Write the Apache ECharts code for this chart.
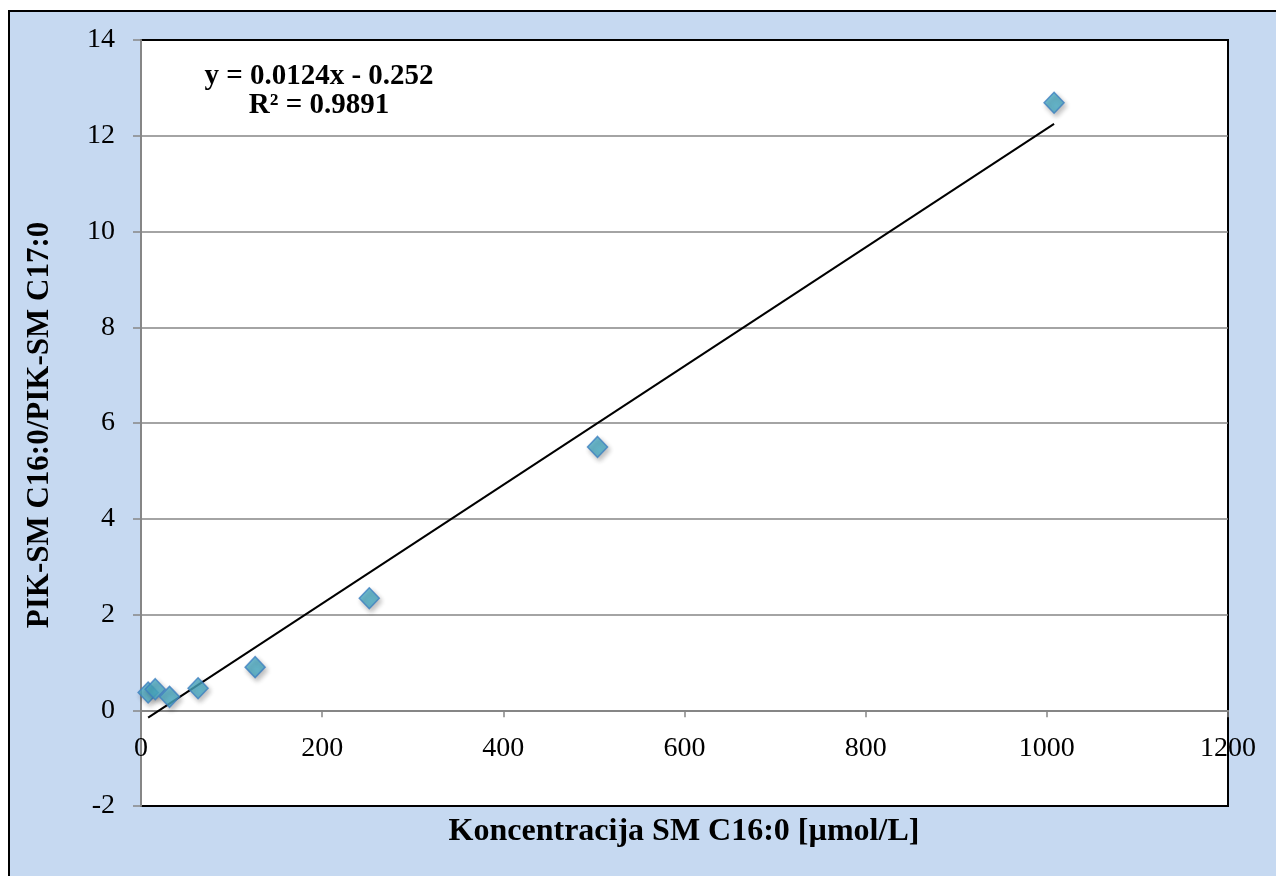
<!DOCTYPE html>
<html>
<head>
<meta charset="utf-8">
<script src="https://cdn.jsdelivr.net/npm/echarts@6/dist/echarts.min.js"></script>
<style>
  html, body { margin: 0; padding: 0; background: #ffffff; }
  #chart { width: 1276px; height: 876px; }
</style>
</head>
<body>
<div id="chart"></div>
<script>
// Calibration points: SM C16:0 concentration vs. peak-area ratio
const concentrations = [7.875, 15.75, 31.5, 63, 126, 252, 504, 1008];
const peakRatios = [0.37, 0.44, 0.28, 0.46, 0.90, 2.34, 5.50, 12.69];

// Linear fit as reported on the chart
const fitSlope = 0.0124;
const fitIntercept = -0.252;
const fitR2 = 0.9891;

// Axis ranges [min, max, step]
const xRange = [0, 1200, 200];
const yRange = [-2, 14, 2];

const xTitle = 'Koncentracija SM C16:0 [\u00b5mol/L]';
const yTitle = 'PIK-SM C16:0/PIK-SM C17:0';

const pointData = concentrations.map((x, i) => [x, peakRatios[i]]);
const fitEnds = [concentrations[0], concentrations[concentrations.length - 1]];
const fitData = fitEnds.map(x => [x, fitSlope * x + fitIntercept]);

const serif = '"Liberation Serif", "Times New Roman", serif';
const gray = '#868686';

// Plot box
const gridLeft = 141, gridTop = 40, gridW = 1087, gridH = 766;
// The x axis crosses at y = 0: lift it from the bottom edge by that distance
const zeroLift = gridH * (0 - yRange[0]) / (yRange[1] - yRange[0]);

const chart = echarts.init(document.getElementById('chart'), null, { renderer: 'canvas' });

chart.setOption({
  animation: false,
  backgroundColor: '#ffffff',
  grid: {
    left: gridLeft, top: gridTop, width: gridW, height: gridH,
    show: true, backgroundColor: '#ffffff',
    borderColor: '#000000', borderWidth: 2
  },
  xAxis: {
    type: 'value',
    min: xRange[0], max: xRange[1], interval: xRange[2],
    offset: -zeroLift,
    axisLine: { show: true, onZero: false, lineStyle: { color: gray, width: 2 } },
    axisTick: { show: true, inside: false, length: 7, lineStyle: { color: gray, width: 1.5 } },
    axisLabel: {
      color: '#000', fontFamily: serif, fontSize: 28, margin: 24,
      formatter: v => String(v)
    },
    splitLine: { show: false }
  },
  yAxis: {
    type: 'value',
    min: yRange[0], max: yRange[1], interval: yRange[2],
    axisLine: { show: true, onZero: false, lineStyle: { color: gray, width: 2 } },
    axisTick: { show: true, inside: false, length: 8, lineStyle: { color: gray, width: 1.5 } },
    axisLabel: { color: '#000', fontFamily: serif, fontSize: 28, margin: 26 },
    splitLine: { show: true, showMinLine: false, showMaxLine: false, lineStyle: { color: gray, width: 1.5 } }
  },
  series: [
    {
      type: 'line',
      data: fitData,
      showSymbol: false,
      symbol: 'none',
      lineStyle: { color: '#000000', width: 2 },
      z: 2
    },
    {
      type: 'scatter',
      data: pointData,
      symbol: 'diamond',
      symbolSize: [20, 21],
      itemStyle: {
        color: '#4bacc6',
        borderColor: '#3d7fc0',
        borderWidth: 1.5,
        shadowBlur: 5,
        shadowOffsetX: 2,
        shadowOffsetY: 3,
        shadowColor: 'rgba(0,0,0,0.3)'
      },
      z: 3
    }
  ],
  graphic: [
    {
      type: 'rect', z: -10, silent: true,
      shape: { x: 9, y: 11, width: 1300, height: 900 },
      style: { fill: '#c6d9f1', stroke: '#000000', lineWidth: 2 }
    },
    {
      type: 'text', z: 10,
      x: 319, y: 91,
      style: {
        text: 'y = ' + fitSlope + 'x - ' + Math.abs(fitIntercept) + '\nR\u00b2 = ' + fitR2,
        fontFamily: serif, fontWeight: 'bold', fontSize: 29, lineHeight: 29,
        fill: '#000', align: 'center', verticalAlign: 'middle'
      }
    },
    {
      type: 'text', z: 10,
      x: 684, y: 832,
      style: {
        text: xTitle, fontFamily: serif, fontWeight: 'bold', fontSize: 32,
        fill: '#000', align: 'center', verticalAlign: 'middle'
      }
    },
    {
      type: 'text', z: 10,
      x: 40, y: 425, rotation: Math.PI / 2,
      style: {
        text: yTitle, fontFamily: serif, fontWeight: 'bold', fontSize: 31,
        fill: '#000', align: 'center', verticalAlign: 'middle'
      }
    }
  ]
});
</script>
</body>
</html>
